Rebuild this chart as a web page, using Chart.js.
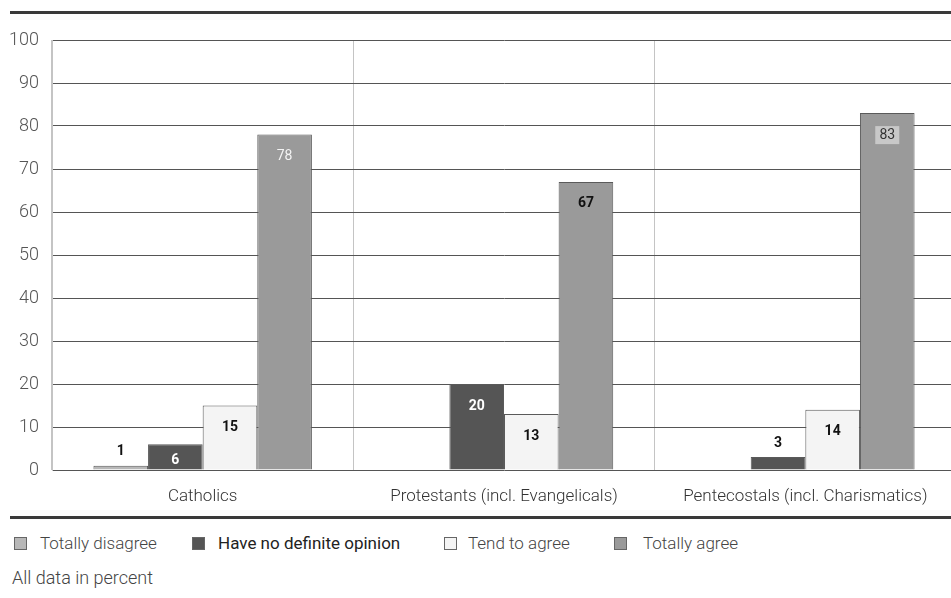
<!DOCTYPE html>
<html>
<head>
<meta charset="utf-8">
<script src="https://cdn.jsdelivr.net/npm/chart.js@4"></script>
<style>
  body { margin: 0; background: #fff; width: 951px; height: 598px; overflow: hidden; position: relative; font-family: Roboto, "Open Sans", sans-serif; }
  #wrap { position: absolute; left: 0; top: 0; width: 956px; height: 510px; }
  .rule { position: absolute; left: 10px; width: 941px; height: 3px; background: #3a3a3a; }
  .box { position: absolute; top: 537px; width: 11px; height: 11px; border: 1px solid #666; }
  .leg { position: absolute; top: 531px; font-size: 17px; font-weight: 300; color: #444; line-height: 24px; white-space: nowrap; }
  .leg.bold { font-weight: 400; color: #222; }
  #note { position: absolute; left: 12px; top: 566px; font-size: 18px; font-weight: 300; color: #444; line-height: 24px; }
</style>
</head>
<body>
<div class="rule" style="top:11px"></div>
<div id="wrap"><canvas id="barChart" width="956" height="510"></canvas></div>
<div class="rule" style="top:516px"></div>

<div class="box" style="left:14px;background:#b8b8b8"></div><div class="leg" style="left:40px">Totally disagree</div>
<div class="box" style="left:192px;background:#555"></div><div class="leg bold" style="left:218px">Have no definite opinion</div>
<div class="box" style="left:444px;background:#f4f4f4"></div><div class="leg" style="left:468px">Tend to agree</div>
<div class="box" style="left:614px;background:#9a9a9a"></div><div class="leg" style="left:643px">Totally agree</div>
<div id="note">All data in percent</div>

<script>
const groups = ['Catholics', 'Protestants (incl. Evangelicals)', 'Pentecostals (incl. Charismatics)'];
const totallyDisagree = [1, 0, 0];
const noOpinion = [6, 20, 3];
const tendToAgree = [15, 13, 14];
const totallyAgree = [78, 67, 83];
const yTicks = [0, 10, 20, 30, 40, 50, 60, 70, 80, 90, 100];

// value labels drawn on / above the bars
const valueLabels = {
    id: 'valueLabels',
    afterDatasetsDraw(chart) {
        const ctx = chart.ctx;
        ctx.save();
        ctx.textAlign = 'center';
        ctx.textBaseline = 'middle';
        chart.data.datasets.forEach((ds, di) => {
            const meta = chart.getDatasetMeta(di);
            meta.data.forEach((bar, i) => {
                const v = ds.data[i];
                if (!v) return;
                const h = bar.base - bar.y;
                let y, color = '#111';
                if (v < 5) {
                    y = bar.y - 14;
                } else {
                    y = bar.y + Math.min(22, h / 2 + 4);
                    color = ds.labelColor[i];
                }
                ctx.font = (ds.labelWeight ? ds.labelWeight[i] : 'bold') + ' 14px Roboto, sans-serif';
                if (ds.labelBox && ds.labelBox[i]) {
                    ctx.fillStyle = ds.labelBox[i];
                    ctx.fillRect(bar.x - 12, y - 9, 24, 18);
                }
                ctx.fillStyle = color;
                ctx.fillText(String(v), bar.x, y);
            });
        });
        ctx.restore();
    }
};

const barCtx = document.getElementById('barChart').getContext('2d');
const barChart = new Chart(barCtx, {
    type: 'bar',
    data: {
        labels: groups,
        datasets: [
            {
                label: 'Totally disagree',
                data: totallyDisagree,
                backgroundColor: '#b8b8b8',
                labelColor: ['#111', '#111', '#111']
            },
            {
                label: 'Have no definite opinion',
                data: noOpinion,
                backgroundColor: '#555555',
                labelColor: ['#fff', '#fff', '#fff']
            },
            {
                label: 'Tend to agree',
                data: tendToAgree,
                backgroundColor: '#f4f4f4',
                labelColor: ['#111', '#111', '#111']
            },
            {
                label: 'Totally agree',
                data: totallyAgree,
                backgroundColor: '#9a9a9a',
                labelColor: ['#f4f4f4', '#111', '#333'],
                labelWeight: ['normal', 'bold', 'normal'],
                labelBox: [null, null, '#c8c8c8']
            }
        ]
    },
    options: {
        responsive: false,
        animation: false,
        layout: { padding: { top: 40, right: 0, left: 0, bottom: 0 } },
        datasets: {
            bar: {
                borderColor: '#5a5a5a',
                borderWidth: 1,
                borderSkipped: 'start',
                barPercentage: 1,
                categoryPercentage: 0.725
            }
        },
        plugins: {
            legend: { display: false },
            tooltip: { enabled: false }
        },
        scales: {
            x: {
                afterFit: (s) => { s.height = 40; },
                grid: { color: '#c4c4c4', lineWidth: 1, drawTicks: false },
                border: { display: false },
                ticks: {
                    color: '#333',
                    padding: 17,
                    font: { family: 'Roboto', size: 17, weight: 300 }
                }
            },
            y: {
                min: 0,
                max: 100,
                afterFit: (s) => { s.width = 52; },
                afterBuildTicks: (s) => { s.ticks = yTicks.map(v => ({ value: v })); },
                grid: { color: '#555', lineWidth: 1, drawTicks: false },
                border: { color: '#c4c4c4' },
                ticks: {
                    color: '#555',
                    padding: 13,
                    font: { family: 'Roboto', size: 18, weight: 300 }
                }
            }
        }
    },
    plugins: [valueLabels]
});
</script>
</body>
</html>
